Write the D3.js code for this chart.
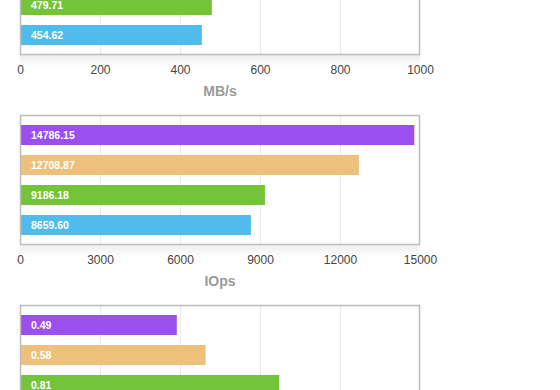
<!DOCTYPE html>
<html>
<head>
<meta charset="utf-8">
<script src="https://cdn.jsdelivr.net/npm/d3@7"></script>
<style>
  html, body { margin: 0; padding: 0; background: #fff; }
  #svg-container { width: 560px; height: 390px; overflow: hidden; }
  text { font-family: "Liberation Sans", Arial, Helvetica, sans-serif; }
</style>
</head>
<body>
<div id="svg-container"></div>
<script>
////////////////////////////////////////////////////////////////////
////////////////////////////  Data  ////////////////////////////////
const series = ["s1", "s2", "s3", "s4"];
const colors = ["#9b4fef", "#edc07b", "#74c43a", "#4fbcec"];

// MB/s panel (top two bars are scrolled out of view, values estimated)
const mbpsValues = [560.0, 520.0, 479.71, 454.62];
const mbpsTicks = [0, 200, 400, 600, 800, 1000];

// IOps panel
const iopsValues = [14786.15, 12708.87, 9186.18, 8659.6];
const iopsTicks = [0, 3000, 6000, 9000, 12000, 15000];

// latency panel (last bar is below the fold, value estimated)
const latValues = [0.49, 0.58, 0.81, 0.86];
const latTicks = [0, 0.25, 0.5, 0.75, 1, 1.25];

const panels = [
  { title: "MB/s", values: mbpsValues, ticks: mbpsTicks, top: -75 },
  { title: "IOps", values: iopsValues, ticks: iopsTicks, top: 115 },
  { title: "ms", values: latValues, ticks: latTicks, top: 305 },
];

////////////////////////////////////////////////////////////////////
////////////////////////////  Init  ////////////////////////////////
const width = 560;
const height = 390;
const plotW = 400;
const plotH = 130;
const left = 20;

const svg = d3
  .select("#svg-container")
  .append("svg")
  .attr("width", width)
  .attr("height", height);

const defs = svg.append("defs");
const grad = defs
  .append("linearGradient")
  .attr("id", "shadow")
  .attr("x1", 0)
  .attr("y1", 0)
  .attr("x2", 0)
  .attr("y2", 1);
grad.append("stop").attr("offset", "0%").attr("stop-color", "#000").attr("stop-opacity", 0.07);
grad.append("stop").attr("offset", "100%").attr("stop-color", "#000").attr("stop-opacity", 0);

const yScale = d3
  .scaleBand()
  .domain(series)
  .range([0, plotH])
  .paddingInner(1 / 3)
  .paddingOuter(1 / 3);

////////////////////////////////////////////////////////////////////
////////////////////////////  Panels  //////////////////////////////
panels.forEach((p) => {
  const xScale = d3
    .scaleLinear()
    .domain([0, d3.max(p.ticks)])
    .range([0, plotW]);

  const g = svg
    .append("g")
    .attr("transform", `translate(${left},${p.top})`);

  // soft shadow under the box
  g.append("rect")
    .attr("x", 0)
    .attr("y", plotH)
    .attr("width", plotW)
    .attr("height", 12)
    .attr("fill", "url(#shadow)");

  g.append("rect")
    .attr("width", plotW)
    .attr("height", plotH)
    .attr("fill", "#fff");

  // gridlines
  g.append("g")
    .attr("transform", `translate(0,${plotH})`)
    .call(
      d3.axisBottom(xScale)
        .tickValues(p.ticks.slice(1, -1))
        .tickSize(-plotH)
        .tickFormat("")
    )
    .call((a) => a.select(".domain").remove())
    .call((a) => a.selectAll("line").attr("stroke", "#e9e9e9").attr("stroke-width", 1));

  // bars
  const data = p.values.map((v, i) => ({ key: series[i], value: v, color: colors[i] }));

  g.selectAll(".bar")
    .data(data)
    .enter()
    .append("rect")
    .attr("class", "bar")
    .attr("x", 0)
    .attr("y", (d) => yScale(d.key))
    .attr("width", (d) => xScale(d.value))
    .attr("height", yScale.bandwidth())
    .attr("fill", (d) => d.color);

  g.selectAll(".bar-label")
    .data(data)
    .enter()
    .append("text")
    .attr("class", "bar-label")
    .attr("x", 11)
    .attr("y", (d) => yScale(d.key) + yScale.bandwidth() / 2)
    .attr("dy", "0.36em")
    .attr("fill", "#fff")
    .attr("font-size", 10.5)
    .attr("font-weight", "bold")
    .text((d) => d.value.toFixed(2));

  // box border
  g.append("rect")
    .attr("x", 0.5)
    .attr("y", 0.5)
    .attr("width", plotW - 1)
    .attr("height", plotH - 1)
    .attr("fill", "none")
    .attr("stroke", "#bdbdbd")
    .attr("stroke-width", 1.5);

  // tick labels
  g.append("g")
    .attr("transform", `translate(0,${plotH})`)
    .call(d3.axisBottom(xScale).tickValues(p.ticks).tickSize(0).tickPadding(10).tickFormat(d3.format("")))
    .call((a) => a.select(".domain").remove())
    .call((a) =>
      a.selectAll("text")
        .attr("fill", "#444")
        .attr("font-size", 12)
        .attr("font-family", "\"Liberation Sans\", Arial, sans-serif")
    );

  // axis title
  g.append("text")
    .attr("x", plotW / 2)
    .attr("y", plotH + 36)
    .attr("dy", "0.36em")
    .attr("text-anchor", "middle")
    .attr("fill", "#9a9a9a")
    .attr("font-size", 14)
    .attr("font-weight", "bold")
    .text(p.title);
});
</script>
</body>
</html>
